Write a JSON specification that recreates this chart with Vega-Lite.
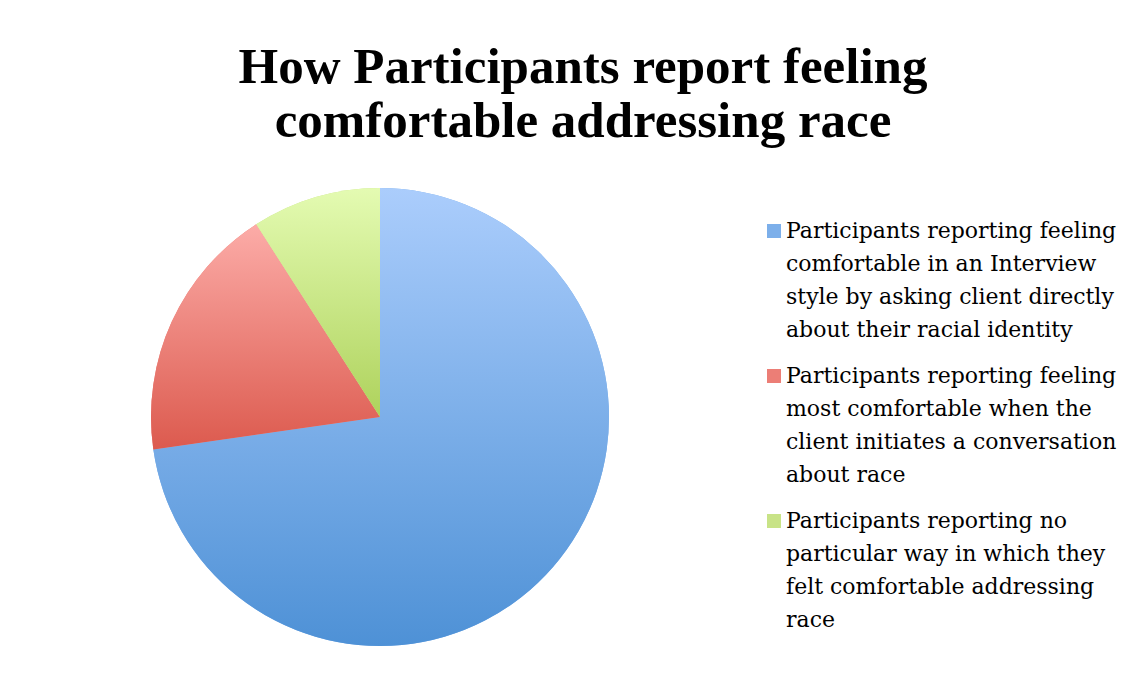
{
  "$schema": "https://vega.github.io/schema/vega-lite/v6.json",
  "width": 458,
  "height": 458,
  "autosize": {"type": "none"},
  "padding": {"left": 151, "top": 188, "right": 536, "bottom": 28},
  "background": "white",
  "title": {
    "text": ["How Participants report feeling", "comfortable addressing race"],
    "font": "Liberation Serif",
    "fontSize": 51,
    "fontWeight": "bold",
    "lineHeight": 54,
    "color": "black",
    "anchor": "middle",
    "frame": "group",
    "baseline": "bottom",
    "dx": 203,
    "offset": -11
  },
  "data": {
    "values": [
      {"group": "Participants reporting feeling|comfortable in an Interview|style by asking client directly|about their racial identity", "order": 1, "count": 8},
      {"group": "Participants reporting feeling|most comfortable when the|client initiates a conversation|about race", "order": 2, "count": 2},
      {"group": "Participants reporting no|particular way in which they|felt comfortable addressing|race", "order": 3, "count": 1}
    ]
  },
  "encoding": {
    "theta": {"field": "count", "type": "quantitative", "stack": true},
    "order": {"field": "order", "type": "quantitative"}
  },
  "layer": [
    {
      "mark": {"type": "arc", "outerRadius": 229},
      "encoding": {
        "color": {
          "field": "group",
          "type": "nominal",
          "sort": null,
          "scale": {
            "domain": [
              "Participants reporting feeling|comfortable in an Interview|style by asking client directly|about their racial identity",
              "Participants reporting feeling|most comfortable when the|client initiates a conversation|about race",
              "Participants reporting no|particular way in which they|felt comfortable addressing|race"
            ],
            "range": ["#7cafea", "#ec7e76", "#c8e387"]
          },
          "legend": {
            "title": null,
            "orient": "none",
            "legendX": 612,
            "legendY": 39,
            "symbolType": "M-1,-2H1V0H-1Z",
            "symbolSize": 196,
            "symbolStrokeWidth": 0,
            "labelFont": "DejaVu Serif",
            "labelFontSize": 22,
            "labelColor": "black",
            "labelLimit": 0,
            "labelBaseline": "alphabetic",
            "labelOffset": 1,
            "rowPadding": 24,
            "labelExpr": "split(datum.label, '|')"
          }
        }
      }
    },
    {
      "mark": {"type": "arc", "outerRadius": 229, "fill": {"gradient": "linear", "x1": 0, "y1": 0, "x2": 0, "y2": 1, "stops": [{"offset": 0, "color": "#abcdfc"}, {"offset": 1, "color": "#4e91d6"}]}},
      "encoding": {
        "fillOpacity": {"condition": {"test": "datum.order === 1", "value": 1}, "value": 0}
      }
    },
    {
      "mark": {"type": "arc", "outerRadius": 229, "fill": {"gradient": "linear", "x1": 0, "y1": 0, "x2": 0, "y2": 1, "stops": [{"offset": 0, "color": "#fcaca8"}, {"offset": 1, "color": "#dc5a4e"}]}},
      "encoding": {
        "fillOpacity": {"condition": {"test": "datum.order === 2", "value": 1}, "value": 0}
      }
    },
    {
      "mark": {"type": "arc", "outerRadius": 229, "fill": {"gradient": "linear", "x1": 0, "y1": 0, "x2": 0, "y2": 1, "stops": [{"offset": 0, "color": "#e4fbb2"}, {"offset": 1, "color": "#aed25c"}]}},
      "encoding": {
        "fillOpacity": {"condition": {"test": "datum.order === 3", "value": 1}, "value": 0}
      }
    }
  ],
  "config": {
    "view": {"stroke": null},
    "style": {"guide-label": {"lineHeight": 33}}
  }
}
